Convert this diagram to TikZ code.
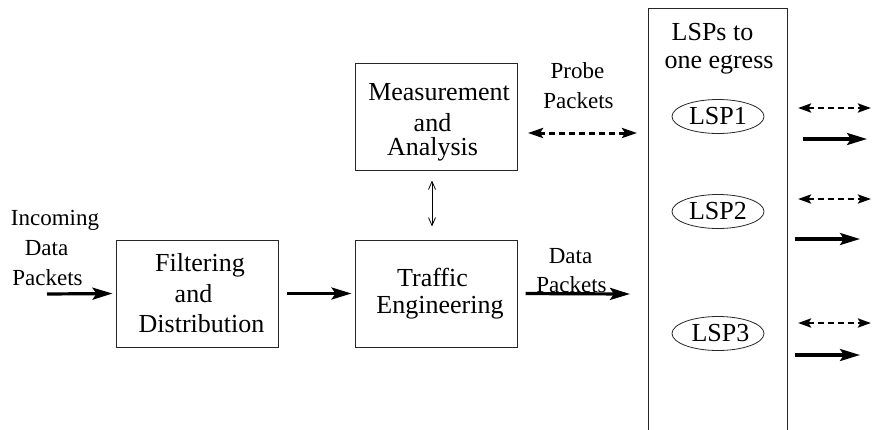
\documentclass[tikz,border=0pt]{standalone}
\usepackage{fontspec}
\setmainfont{Liberation Serif}
\newfontfamily\tmsfont{Liberation Serif}
\usetikzlibrary{arrows.meta,shapes.geometric}
\begin{document}
\begin{tikzpicture}[x=1pt,y=-1pt,
  box/.style={draw=black!85,line width=1pt,minimum width=162pt,minimum height=107pt,inner sep=0pt},
  colbox/.style={draw=black!85,line width=1pt,minimum width=139pt,minimum height=460pt,inner sep=0pt},
  big/.style={font=\tmsfont\fontsize{26}{30}\selectfont,inner sep=0pt,anchor=base},
  small/.style={font=\tmsfont\fontsize{23}{27}\selectfont,inner sep=0pt,anchor=base},
  lsp/.style={draw=black!85,line width=0.8pt,ellipse,minimum width=92pt,minimum height=34pt,inner sep=0pt,font=\tmsfont\fontsize{26}{30}\selectfont},
  thickarrow/.style={line width=3.2pt,-{Stealth[length=20pt,width=12pt,inset=4pt]}},
  probearrow/.style={line width=3pt,dash pattern=on 6pt off 4pt,{Stealth[length=15pt,width=10pt,inset=3pt]}-{Stealth[length=15pt,width=10pt,inset=3pt]}},
  sidedash/.style={line width=2.8pt,dash pattern=on 6pt off 4pt,{Stealth[length=13pt,width=9pt,inset=2.5pt]}-{Stealth[length=13pt,width=9pt,inset=2.5pt]}},
  thinarrow/.style={line width=0.8pt,{Straight Barb[length=8pt,width=7pt]}-{Straight Barb[length=8pt,width=7pt]}}
]
\useasboundingbox (0,0) rectangle (872,429);

% boxes
\node[box] (filt) at (197,293.5) {};
\node[box] (te) at (436,293.5) {};
\node[box] (ma) at (436,116.5) {};
\node[colbox] (col) at (717.5,238) {};

% box texts
\node[big] (t1) at (200,271) {Filtering};
\node[big] (t2) at (193.5,302) {and};
\node[big] (t3) at (201.5,332) {Distribution};
\node[big] (t4) at (432.5,286) {Traffic};
\node[big] (t5) at (440,313) {Engineering};
\node[big] (t6) at (439,100) {Measurement};
\node[big] (t7) at (432.5,131) {and};
\node[big] (t8) at (432.5,155) {Analysis};
\node[big] (t9) at (712.5,40) {LSPs to};
\node[big] (t10) at (719,68) {one egress};

% labels
\node[small] (l1) at (55,225) {Incoming};
\node[small] (l2) at (46.5,255) {Data};
\node[small] (l3) at (47.5,285) {Packets};
\node[small] (l4) at (577.5,78) {Probe};
\node[small] (l5) at (578.5,108) {Packets};
\node[small] (l6) at (570.5,263) {Data};
\node[small] (l7) at (571.5,292) {Packets};

% LSPs
\node[lsp] (lsp1) at (718,116.5) {LSP1};
\node[lsp] (lsp2) at (718,211.5) {LSP2};
\node[lsp] (lsp3) at (718,333.5) {\hspace{5pt}LSP3};

% free ends
\coordinate (in0) at (47,294);
\coordinate (dp1) at (630,294);
\coordinate (pr0) at (528,133);
\coordinate (pr1) at (637,133);
\coordinate (a1) at (798,108); \coordinate (a1e) at (871,108);
\coordinate (b1) at (803,139); \coordinate (b1e) at (867,139);
\coordinate (a2) at (798,199); \coordinate (a2e) at (871,199);
\coordinate (b2) at (795,239); \coordinate (b2e) at (860,239);
\coordinate (a3) at (798,323); \coordinate (a3e) at (871,323);
\coordinate (b3) at (795,355); \coordinate (b3e) at (860,355);

% connectors
\draw[thickarrow,shorten >=3pt] (in0) -- (filt.west);
\draw[thickarrow,shorten <=8pt,shorten >=3pt] (filt.east) -- (te.west);
\draw[thickarrow,shorten <=8pt] (te.east) -- (dp1);
\draw[probearrow] (pr0) -- (pr1);
\draw[thinarrow,shorten <=10pt,shorten >=13pt] ([xshift=-4pt]ma.south) -- ([xshift=-4pt]te.north);

\draw[sidedash] (a1) -- (a1e);
\draw[thickarrow] (b1) -- (b1e);
\draw[sidedash] (a2) -- (a2e);
\draw[thickarrow] (b2) -- (b2e);
\draw[sidedash] (a3) -- (a3e);
\draw[thickarrow] (b3) -- (b3e);
\end{tikzpicture}
\end{document}
